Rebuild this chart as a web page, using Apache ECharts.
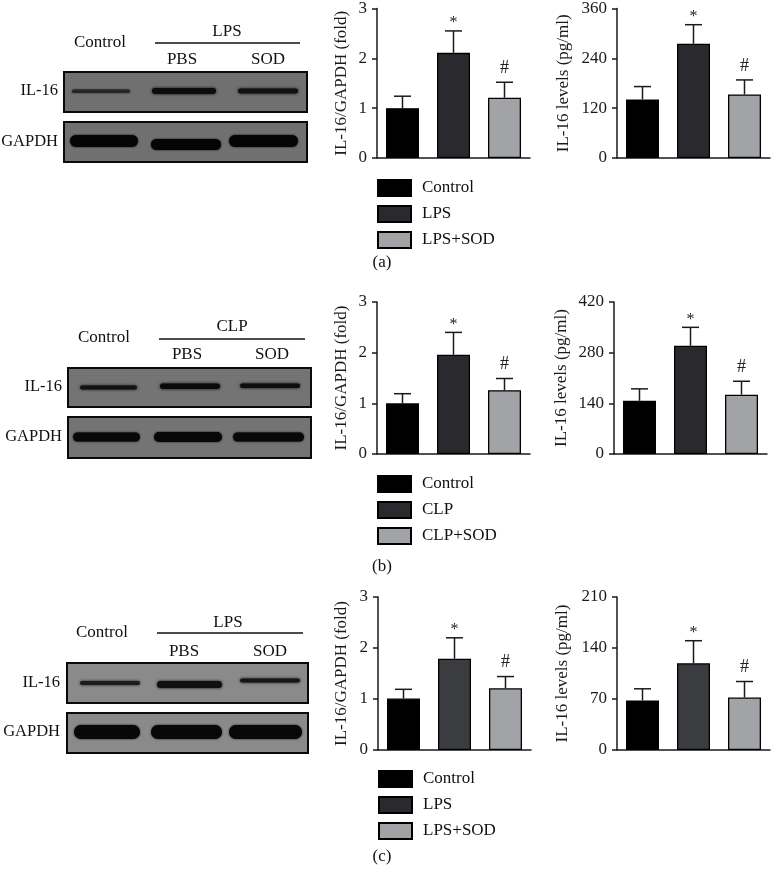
<!DOCTYPE html>
<html><head><meta charset="utf-8">
<script src="https://cdn.jsdelivr.net/npm/echarts@6/dist/echarts.min.js"></script>
<style>html,body{margin:0;padding:0;background:#fff}#c{width:772px;height:870px}</style>
</head><body><div id="c"></div>
<script>
// ---------- data ----------
const groupsA = ['Control', 'LPS', 'LPS+SOD'];
const groupsB = ['Control', 'CLP', 'CLP+SOD'];
const groupsC = ['Control', 'LPS', 'LPS+SOD'];
const markers = ['', '*', '#'];

const ratioA = [1.00, 2.11, 1.21];
const ratioErrA = [0.24, 0.44, 0.31];
const levelA = [141, 275, 153];
const levelErrA = [31, 46, 35];

const ratioB = [1.00, 1.96, 1.26];
const ratioErrB = [0.19, 0.44, 0.23];
const levelB = [147, 299, 164];
const levelErrB = [33, 51, 37];

const ratioC = [1.01, 1.79, 1.21];
const ratioErrC = [0.18, 0.41, 0.23];
const levelC = [68, 119, 72];
const levelErrC = [16, 31, 22];

const ratioTicks = [0, 1, 2, 3];
const levelTicksA = [0, 120, 240, 360];
const levelTicksB = [0, 140, 280, 420];
const levelTicksC = [0, 70, 140, 210];

const ratioName = 'IL-16/GAPDH (fold)';
const levelName = 'IL-16 levels (pg/ml)';
const laneLabels = ['Control', 'PBS', 'SOD'];
const rowLabels = ['IL-16', 'GAPDH'];
const treatA = 'LPS', treatB = 'CLP', treatC = 'LPS';
const panelLabels = ['(a)', '(b)', '(c)'];

// ---------- styles ----------
const FONT = '"Liberation Serif", "Times New Roman", serif';
const barColorsAB = ['#000000', '#2a2a2e', '#a2a3a7'];
const barColorsC = ['#000000', '#3b3c40', '#a2a3a7'];

const grids = [
  {left: 377, top: 6, width: 153, height: 152},
  {left: 617, top: 6, width: 153, height: 152},
  {left: 377, top: 302, width: 153, height: 152},
  {left: 614, top: 302, width: 153, height: 152},
  {left: 378, top: 597, width: 153, height: 153},
  {left: 617, top: 597, width: 153, height: 153}
];
const nameGaps = [27, 45, 27, 44, 28, 46];

const charts = [
  {groups: groupsA, mean: ratioA, err: ratioErrA, ticks: ratioTicks, name: ratioName, colors: barColorsAB},
  {groups: groupsA, mean: levelA, err: levelErrA, ticks: levelTicksA, name: levelName, colors: barColorsAB},
  {groups: groupsB, mean: ratioB, err: ratioErrB, ticks: ratioTicks, name: ratioName, colors: barColorsAB},
  {groups: groupsB, mean: levelB, err: levelErrB, ticks: levelTicksB, name: levelName, colors: barColorsAB},
  {groups: groupsC, mean: ratioC, err: ratioErrC, ticks: ratioTicks, name: ratioName, colors: barColorsC},
  {groups: groupsC, mean: levelC, err: levelErrC, ticks: levelTicksC, name: levelName, colors: barColorsC}
];

const xAxes = [], yAxes = [], series = [];
charts.forEach((c, gi) => {
  xAxes.push({
    type: 'category', gridIndex: gi, data: c.groups,
    axisLine: {lineStyle: {color: '#1a1a1a', width: 1.5}},
    axisTick: {show: false}, axisLabel: {show: false}
  });
  yAxes.push({
    type: 'value', gridIndex: gi,
    min: c.ticks[0], max: c.ticks[c.ticks.length - 1], interval: c.ticks[1] - c.ticks[0],
    axisLine: {show: true, lineStyle: {color: '#1a1a1a', width: 1.5}},
    axisTick: {show: true, length: 5, lineStyle: {color: '#1a1a1a', width: 1.5}},
    splitLine: {show: false},
    axisLabel: {fontFamily: FONT, fontSize: 17, color: '#1a1a1a', margin: 10},
    name: c.name, nameLocation: 'middle', nameGap: nameGaps[gi],
    nameTextStyle: {fontFamily: FONT, fontSize: 17, color: '#1a1a1a'}
  });
  c.groups.forEach((g, k) => {
    series.push({
      name: g, type: 'bar', xAxisIndex: gi, yAxisIndex: gi,
      barWidth: 33, barGap: '-100%',
      data: c.mean.map((v, j) => j === k ? v : '-'),
      itemStyle: {color: c.colors[k], borderColor: '#000', borderWidth: 1.3},
      animation: false
    });
  });
  series.push({
    type: 'custom', xAxisIndex: gi, yAxisIndex: gi, z: 5,
    data: c.mean.map((v, j) => [j, v, c.err[j]]),
    encode: {x: 0, y: 1},
    renderItem: function (params, api) {
      const i = api.value(0), m = api.value(1), e = api.value(2);
      const p0 = api.coord([i, m]);
      const p1 = api.coord([i, m + e]);
      const mk = markers[i];
      const ch = [
        {type: 'line', shape: {x1: p0[0], y1: p0[1], x2: p1[0], y2: p1[1]}, style: {stroke: '#1a1a1a', lineWidth: 1.5}},
        {type: 'line', shape: {x1: p1[0] - 8.5, y1: p1[1], x2: p1[0] + 8.5, y2: p1[1]}, style: {stroke: '#1a1a1a', lineWidth: 1.5}}
      ];
      if (mk) {
        const isStar = mk === '*';
        ch.push({type: 'text', style: {
          text: mk, x: p1[0], y: p1[1] - (isStar ? 8 : 14),
          font: (isStar ? '16px ' : '18px ') + FONT, fill: '#222',
          align: 'center', verticalAlign: 'middle', textAlign: 'center', textVerticalAlign: 'middle'
        }});
      }
      return {type: 'group', children: ch};
    },
    animation: false
  });
});

const legendBase = {
  orient: 'vertical', itemWidth: 33, itemHeight: 16, itemGap: 8, icon: 'rect',
  selectedMode: false, padding: 0,
  textStyle: {fontFamily: FONT, fontSize: 17, color: '#111', padding: [0, 0, 0, 6]}
};
const legends = [
  Object.assign({}, legendBase, {data: groupsA, left: 377, top: 179}),
  Object.assign({}, legendBase, {data: groupsB, left: 377, top: 475}),
  Object.assign({}, legendBase, {data: groupsC, left: 378, top: 770})
];

// ---------- western blot drawings ----------
function txt(s, x, y, align, size) {
  return {type: 'text', z: 10, style: {
    text: s, x: x, y: y, font: (size || 17) + 'px ' + FONT, fill: '#111',
    align: align || 'center', verticalAlign: 'middle',
    textAlign: align || 'center', textVerticalAlign: 'middle'
  }};
}
function band(b) {
  return {type: 'rect', z: 11, shape: {x: b[0], y: b[1], width: b[2], height: b[3], r: b[3] / 2},
    style: {fill: b[4], shadowBlur: b[5] || 3, shadowColor: b[4]}};
}
function blot(p) {
  const el = [];
  el.push(txt(laneLabels[0], p.lane[0], p.ctrlY));
  el.push(txt(p.treat, p.treatX, p.treatY));
  el.push({type: 'line', z: 10, shape: {x1: p.line[0], y1: p.line[2], x2: p.line[1], y2: p.line[2]}, style: {stroke: '#111', lineWidth: 1.3}});
  el.push(txt(laneLabels[1], p.lane[1], p.subY));
  el.push(txt(laneLabels[2], p.lane[2], p.subY));
  el.push(txt(rowLabels[0], p.rowRight, p.rowY[0], 'right', 16.5));
  el.push(txt(rowLabels[1], p.rowRight, p.rowY[1], 'right', 16.5));
  p.boxes.forEach(b => el.push({type: 'rect', z: 9, shape: {x: b[0], y: b[1], width: b[2], height: b[3]},
    style: {fill: p.bg, stroke: '#0a0a0a', lineWidth: 2}}));
  p.bands.forEach(b => el.push(band(b)));
  return el;
}
const blots = [
  {lane: [100, 182, 268], ctrlY: 43, treat: treatA, treatX: 227, treatY: 32, line: [155, 300, 43], subY: 60,
   rowRight: 58, rowY: [91, 142], bg: '#707070',
   boxes: [[64, 72, 243, 40], [64, 122, 243, 40]],
   bands: [[72, 89.5, 58, 3.5, '#262626', 2], [152, 88, 64, 6, '#0c0c0c'], [238, 88.5, 60, 5, '#111111'],
           [70, 135, 68, 12, '#050505', 2], [151, 139, 70, 11, '#050505', 2], [229, 135, 69, 12, '#050505', 2]]},
  {lane: [104, 187, 272], ctrlY: 338, treat: treatB, treatX: 232, treatY: 327, line: [159, 305, 339], subY: 355,
   rowRight: 62, rowY: [387, 437], bg: '#747474',
   boxes: [[68, 368, 243, 39], [68, 417, 243, 41]],
   bands: [[80, 385.5, 57, 4, '#121212'], [160, 383.5, 60, 5.5, '#0a0a0a'], [240, 383.5, 60, 4.5, '#0d0d0d'],
           [73, 432.5, 67, 9, '#080808', 2], [154, 432, 68, 10, '#080808', 2], [233, 432.5, 71, 9, '#080808', 2]]},
  {lane: [102, 184, 270], ctrlY: 633, treat: treatC, treatX: 228, treatY: 623, line: [157, 303, 633], subY: 652,
   rowRight: 60, rowY: [683, 732], bg: '#8a8a8a',
   boxes: [[67, 663, 241, 40], [67, 713, 241, 40]],
   bands: [[80, 681, 60, 4, '#1c1c1c'], [157, 681, 65, 7, '#101010'], [240, 678.5, 60, 4, '#151515'],
           [74, 725, 66, 14, '#080808', 2], [151, 725, 71, 14, '#080808', 2], [229, 725, 73, 14, '#080808', 2]]}
];
let graphics = [];
blots.forEach(b => { graphics = graphics.concat(blot(b)); });
graphics.push(txt(panelLabels[0], 382, 263));
graphics.push(txt(panelLabels[1], 382, 567));
graphics.push(txt(panelLabels[2], 382, 857));

const chart = echarts.init(document.getElementById('c'), null, {renderer: 'canvas'});
chart.setOption({
  animation: false,
  backgroundColor: '#ffffff',
  grid: grids.map(g => Object.assign({containLabel: false}, g)),
  xAxis: xAxes, yAxis: yAxes, series: series,
  legend: legends,
  graphic: {elements: graphics}
});
</script></body></html>
